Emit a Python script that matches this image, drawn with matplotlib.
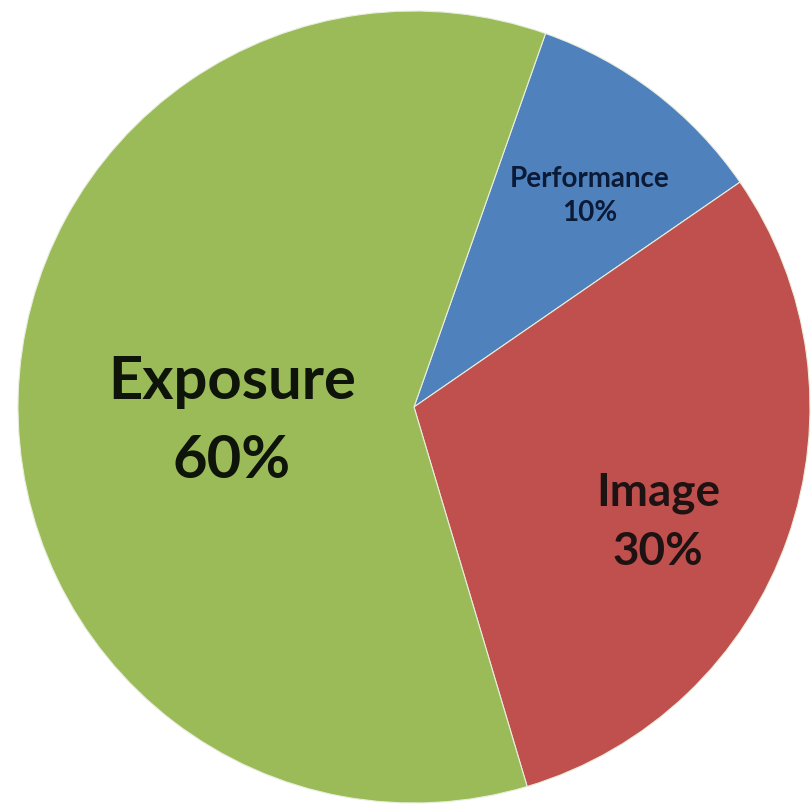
import matplotlib.pyplot as plt
import numpy as np

# slices, clockwise from the top
labels = ["Performance", "Image", "Exposure"]
shares = [10, 30, 60]
colors = ["#4F81BD", "#C0504D", "#9BBB59"]
font_sizes = [20, 33, 43]
text_colors = ["#0b1a36", "#1e1212", "#0f140a"]
label_dist = [0.69, 0.67, 0.46]
# nudges for the labels, in pixels (x right, y down)
label_nudge = [(10, 6), (-6, 27), (0, 19)]
line_gap = [1.4, 1.5, 1.55]

fig = plt.figure(figsize=(8.11, 8.11), dpi=100)
ax = fig.add_axes([0, 0, 1, 1])

wedges, _ = ax.pie(shares, colors=colors, startangle=70.6, counterclock=False,
                   center=(414, 404), radius=396,
                   wedgeprops=dict(edgecolor="#e8eedd", linewidth=0.8))

for w, lab, pct, fs, tc, d, nd, lg in zip(wedges, labels, shares, font_sizes,
                                          text_colors, label_dist, label_nudge, line_gap):
    mid = np.deg2rad((w.theta1 + w.theta2) / 2)
    x = w.center[0] + d * w.r * np.cos(mid) + nd[0]
    y = w.center[1] + d * w.r * np.sin(mid) - nd[1]
    ax.text(x, y, f"{lab}\n{pct}%", ha="center", va="center", fontsize=fs,
            fontweight="bold", family="Lato", color=tc, linespacing=lg)

ax.set_xlim(0, 811)
ax.set_ylim(0, 811)
ax.set_aspect("equal")
ax.axis("off")

plt.savefig("out.png", dpi=100)
